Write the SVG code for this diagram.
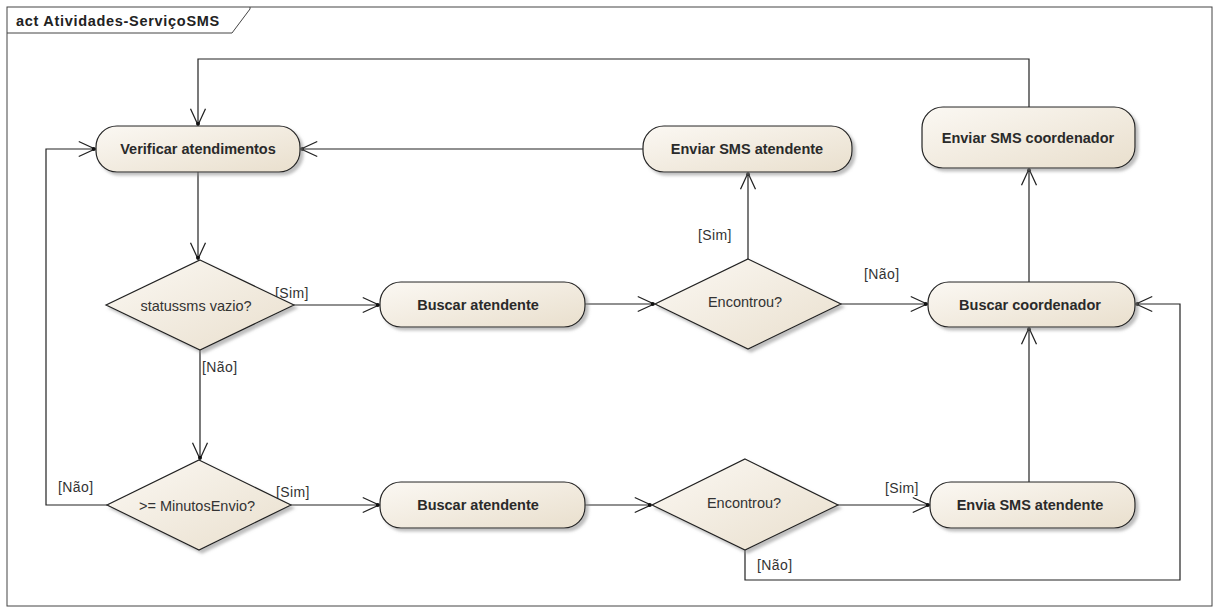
<svg xmlns="http://www.w3.org/2000/svg" width="1217" height="614" viewBox="0 0 1217 614">
<defs>
<linearGradient id="g" x1="0" y1="0" x2="1" y2="1">
<stop offset="0" stop-color="#fbf8f3"/>
<stop offset="1" stop-color="#e9dfcd"/>
</linearGradient>
<filter id="sh" x="-10%" y="-20%" width="130%" height="150%">
<feDropShadow dx="3" dy="3" stdDeviation="1.5" flood-color="#888" flood-opacity="0.55"/>
</filter>
<marker id="arr" markerUnits="userSpaceOnUse" markerWidth="20" markerHeight="20" viewBox="-14 -8 16 16" refX="0" refY="0" orient="auto">
<path d="M-13,-6 L0,0 L-13,6" fill="none" stroke="#222" stroke-width="1"/>
<circle cx="-1" cy="0" r="1.6" fill="#111"/>
</marker>
</defs>
<style>
.node{fill:url(#g);stroke:#222;stroke-width:1.2;filter:url(#sh)}
.t{font-family:"Liberation Sans",Arial,sans-serif;font-size:14.5px;font-weight:bold;fill:#2a2a2a;text-anchor:middle}
.d{font-family:"Liberation Sans",Arial,sans-serif;font-size:14.5px;fill:#333;text-anchor:middle}
.lbl{font-family:"Liberation Sans",Arial,sans-serif;font-size:14px;letter-spacing:0.4px;fill:#333}
.c{fill:none;stroke:#222;stroke-width:1.2}
.frame{fill:none;stroke:#444;stroke-width:1}
</style>
<rect width="1217" height="614" fill="#ffffff"/>
<g id="frame">
<rect class="frame" x="7" y="7" width="1205" height="599"/>
<path class="frame" d="M7,33 H232 L250,9 V7"/>
<text x="16" y="26" font-family="Liberation Sans,Arial,sans-serif" font-size="14.5" letter-spacing="0.7" font-weight="bold" fill="#222">act Atividades-ServiçoSMS</text>
</g>
<g id="connectors">
<path class="c" d="M198,172 V259" marker-end="url(#arr)"/>
<path class="c" d="M294,305 H379" marker-end="url(#arr)"/>
<path class="c" d="M200,350 V459" marker-end="url(#arr)"/>
<path class="c" d="M107,505 H46 V149 H95" marker-end="url(#arr)"/>
<path class="c" d="M291,505 H379" marker-end="url(#arr)"/>
<path class="c" d="M585,304 H654" marker-end="url(#arr)"/>
<path class="c" d="M841,304 H927" marker-end="url(#arr)"/>
<path class="c" d="M748,259 V173" marker-end="url(#arr)"/>
<path class="c" d="M643,149 H301" marker-end="url(#arr)"/>
<path class="c" d="M1029,282 V169" marker-end="url(#arr)"/>
<path class="c" d="M1029,107 V59 H198 V125" marker-end="url(#arr)"/>
<path class="c" d="M585,505 H651" marker-end="url(#arr)"/>
<path class="c" d="M838,505 H929" marker-end="url(#arr)"/>
<path class="c" d="M745,550 V580 H1180 V304 H1136" marker-end="url(#arr)"/>
<path class="c" d="M1029,482 V328" marker-end="url(#arr)"/>
<text class="lbl" x="275" y="298">[Sim]</text>
<text class="lbl" x="202" y="372">[Não]</text>
<text class="lbl" x="58" y="492">[Não]</text>
<text class="lbl" x="276" y="497">[Sim]</text>
<text class="lbl" x="698" y="240">[Sim]</text>
<text class="lbl" x="864" y="279">[Não]</text>
<text class="lbl" x="885" y="493">[Sim]</text>
<text class="lbl" x="757" y="570">[Não]</text>
</g>
<g id="n-verificar">
<rect class="node" x="96" y="126" width="204" height="46" rx="21"/>
<text class="t" x="198" y="154">Verificar atendimentos</text>
</g>
<g id="n-enviar-atendente">
<rect class="node" x="643" y="126" width="209" height="46" rx="21"/>
<text class="t" x="747" y="154">Enviar SMS atendente</text>
</g>
<g id="n-enviar-coord">
<rect class="node" x="922" y="107" width="213" height="61" rx="21"/>
<text class="t" x="1028" y="143">Enviar SMS coordenador</text>
</g>
<g id="n-statussms">
<polygon class="node" points="200,260 294,305 200,350 106,305"/>
<text class="d" x="196" y="311">statussms vazio?</text>
</g>
<g id="n-buscar-atendente-1">
<rect class="node" x="380" y="282" width="205" height="45" rx="21"/>
<text class="t" x="478" y="310">Buscar atendente</text>
</g>
<g id="n-encontrou-1">
<polygon class="node" points="748,259 841,304 748,349 655,304"/>
<text class="d" x="745" y="307">Encontrou?</text>
</g>
<g id="n-buscar-coord">
<rect class="node" x="928" y="282" width="207" height="45" rx="21"/>
<text class="t" x="1030" y="310">Buscar coordenador</text>
</g>
<g id="n-minutos">
<polygon class="node" points="199,460 291,505 199,550 107,505"/>
<text class="d" x="197" y="511">&gt;= MinutosEnvio?</text>
</g>
<g id="n-buscar-atendente-2">
<rect class="node" x="380" y="482" width="205" height="46" rx="21"/>
<text class="t" x="478" y="510">Buscar atendente</text>
</g>
<g id="n-encontrou-2">
<polygon class="node" points="745,459 838,505 745,550 652,505"/>
<text class="d" x="744" y="508">Encontrou?</text>
</g>
<g id="n-envia-sms">
<rect class="node" x="930" y="482" width="205" height="46" rx="21"/>
<text class="t" x="1030" y="510">Envia SMS atendente</text>
</g>
</svg>
